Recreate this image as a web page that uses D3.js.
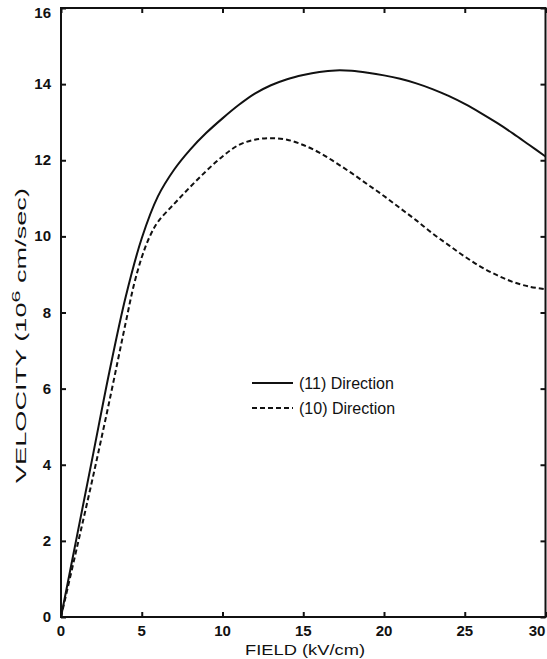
<!DOCTYPE html>
<head>
<meta charset="utf-8">
<script src="https://d3js.org/d3.v7.min.js"></script>
<style>
body {
	margin: 0;
	background: #fff;
}
svg text {
	font-family: "Liberation Sans", Arial, sans-serif;
	fill: #111;
}
.tick-label {
	font-size: 15px;
	font-weight: bold;
}
.axis-title {
	font-size: 14px;
}
.legend-text {
	font-size: 16px;
}
.curve {
	fill: none;
	stroke: #111;
	stroke-width: 2px;
}
</style>
</head>
<body>
<svg id="chart" width="547" height="659"></svg>

<script>

// values
var field11 = [0, 1, 2, 3, 4, 5, 6, 7, 8, 9, 10, 11, 12, 13, 14, 15, 16, 17, 18, 19, 20, 21, 22, 23, 24, 25, 26, 27, 28, 29, 30];
var vel11   = [0, 2.15, 4.3, 6.45, 8.4, 9.95, 11.05, 11.75, 12.28, 12.72, 13.1, 13.45, 13.75, 13.97, 14.13, 14.24, 14.32, 14.36, 14.35, 14.3, 14.23, 14.14, 14.02, 13.87, 13.69, 13.48, 13.24, 12.98, 12.7, 12.4, 12.1];

var field10 = [0, 1, 2, 3, 4, 4.5, 5, 5.5, 6, 7, 8, 9, 10, 11, 12, 13, 14, 15, 16, 17, 18, 19, 20, 21, 22, 23, 24, 25, 26, 27, 28, 29, 30];
var vel10   = [0, 1.85, 3.72, 5.68, 7.72, 8.7, 9.45, 10.0, 10.38, 10.85, 11.3, 11.72, 12.1, 12.4, 12.54, 12.58, 12.54, 12.4, 12.2, 11.94, 11.66, 11.36, 11.06, 10.74, 10.42, 10.08, 9.77, 9.47, 9.2, 8.98, 8.8, 8.68, 8.61];

var xTicks = [0, 5, 10, 15, 20, 25, 30];
var yTicks = [0, 2, 4, 6, 8, 10, 12, 14, 16];

var legendLabels = ["(11) Direction", "(10) Direction"];

var svg = d3.select("#chart"),
	margin = {top: 8, right: 1.5, bottom: 42, left: 61},
	width = +svg.attr("width"),
	height = +svg.attr("height");

var x = d3.scaleLinear()
	.domain([0, 30])
	.range([margin.left, width - margin.right]);

var y = d3.scaleLinear()
	.domain([0, 16])
	.range([height - margin.bottom, margin.top]);

var tickLen = 5;

function ticks(axis, tx, ty) {
	svg.append("g")
		.attr("transform", "translate(" + tx + "," + ty + ")")
		.call(axis.tickSizeInner(-tickLen).tickSizeOuter(0).tickFormat(""))
		.call(g => g.select(".domain").remove())
		.selectAll("line").attr("stroke", "#111").attr("stroke-width", 2);
}

// frame ticks, all pointing inward
ticks(d3.axisBottom(x).tickValues(xTicks), 0, y(0));
ticks(d3.axisTop(x).tickValues(xTicks), 0, y(16));
ticks(d3.axisLeft(y).tickValues(yTicks), x(0), 0);
ticks(d3.axisRight(y).tickValues(yTicks), x(30), 0);

// frame
svg.append("rect")
	.attr("x", x(0))
	.attr("y", y(16))
	.attr("width", x(30) - x(0))
	.attr("height", y(0) - y(16))
	.attr("fill", "none")
	.attr("stroke", "#111")
	.attr("stroke-width", 2);

// tick labels
svg.selectAll(".xlab")
	.data(xTicks)
	.enter().append("text")
	.attr("class", "tick-label")
	.attr("x", d => Math.min(x(d), width - 10))
	.attr("y", y(0) + 19)
	.attr("text-anchor", "middle")
	.text(d => d);

svg.selectAll(".ylab")
	.data(yTicks)
	.enter().append("text")
	.attr("class", "tick-label")
	.attr("x", x(0) - 10)
	.attr("y", d => Math.max(y(d) + 5, 18))
	.attr("text-anchor", "end")
	.text(d => d);

// axis titles (the original lettering is wide, so stretch to its length)
svg.append("text")
	.attr("class", "axis-title")
	.attr("x", 245)
	.attr("y", 655)
	.attr("textLength", 120)
	.attr("lengthAdjust", "spacingAndGlyphs")
	.text("FIELD (kV/cm)");

var yt = svg.append("text")
	.attr("class", "axis-title")
	.attr("transform", "translate(26,483) rotate(-90)")
	.attr("textLength", 295)
	.attr("lengthAdjust", "spacingAndGlyphs");
yt.append("tspan").text("VELOCITY (10");
yt.append("tspan").attr("dy", -6).attr("font-size", "11px").text("6");
yt.append("tspan").attr("dy", 6).text(" cm/sec)");

// curves
var line = d3.line()
	.curve(d3.curveCatmullRom.alpha(0.5))
	.x(d => x(d[0]))
	.y(d => y(d[1]));

var s11 = field11.map((f, i) => [f, vel11[i]]);
var s10 = field10.map((f, i) => [f, vel10[i]]);

svg.append("path")
	.attr("class", "curve")
	.attr("d", line(s11));

svg.append("path")
	.attr("class", "curve")
	.attr("stroke-dasharray", "5,3")
	.attr("d", line(s10));

// legend
var legend = svg.append("g");
var dashes = [null, "5,3"];
legendLabels.forEach(function(label, i) {
	var ly = 383 + i * 25;
	legend.append("line")
		.attr("x1", 252).attr("x2", 293)
		.attr("y1", ly).attr("y2", ly)
		.attr("stroke", "#111")
		.attr("stroke-width", 2)
		.attr("stroke-dasharray", dashes[i]);
	legend.append("text")
		.attr("class", "legend-text")
		.attr("x", 299)
		.attr("y", ly + 6)
		.text(label);
});

</script>
</body>
